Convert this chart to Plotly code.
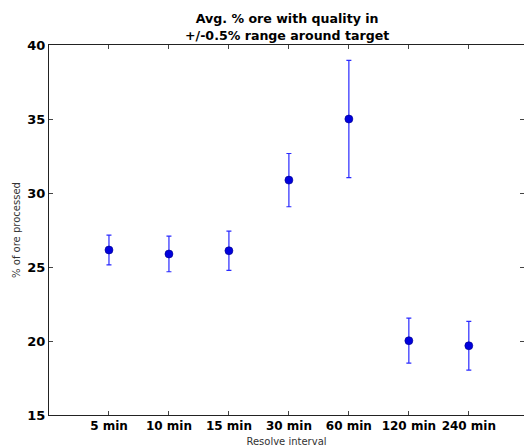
import plotly.graph_objects as go

categories = ["5 min", "10 min", "15 min", "30 min", "60 min", "120 min", "240 min"]
means = [26.15, 25.88, 26.1, 30.87, 35.0, 20.02, 19.68]
errors = [1.0, 1.2, 1.33, 1.8, 3.96, 1.52, 1.65]
y_ticks = [15, 20, 25, 30, 35, 40]

positions = list(range(1, len(categories) + 1))

fig = go.Figure()
fig.add_trace(go.Scatter(
    x=positions, y=means, mode="markers",
    marker=dict(color="#0000dd", size=8, line=dict(color="#00008a", width=0.6)),
    error_y=dict(type="data", array=errors, visible=True, color="#2a2aff",
                 thickness=1.2, width=2.5),
    showlegend=False,
))
# helper trace so the right-hand tick axis is drawn
fig.add_trace(go.Scatter(x=[None], y=[None], yaxis="y2", showlegend=False,
                         hoverinfo="skip"))

fig.update_layout(
    width=524, height=447,
    margin=dict(l=49, r=0, t=45, b=32),
    paper_bgcolor="white", plot_bgcolor="white",
    font=dict(family="DejaVu Sans", color="black"),
    title=dict(text="Avg. % ore with quality in<br>+/-0.5% range around target",
               x=0.548, xanchor="center", y=0.948, yanchor="top",
               font=dict(size=12.6, family="DejaVu Sans", weight="bold")),
    xaxis=dict(range=[0, 7.92], tickvals=positions, ticktext=categories,
               showgrid=False, zeroline=False, showline=True, linecolor="#222",
               linewidth=1, mirror="ticks", ticks="inside", ticklen=4,
               tickcolor="#444", tickfont=dict(size=12, weight="bold"),
               title=dict(text="Resolve interval", font=dict(size=10, color="#333333"),
                          standoff=7)),
    yaxis=dict(range=[15, 40], tickvals=y_ticks, showgrid=False, zeroline=False,
               showline=True, linecolor="#222", linewidth=1, ticks="inside",
               ticklen=4, tickcolor="#444", tickfont=dict(size=13, weight="bold"),
               title=dict(text="% of ore processed", font=dict(size=10, color="#333333"),
                          standoff=4)),
    yaxis2=dict(range=[15, 40], tickvals=y_ticks, overlaying="y", side="right",
                showgrid=False, zeroline=False, showline=False, ticks="inside",
                ticklen=4, tickcolor="#444", showticklabels=False),
)

fig.write_html("out.html")
